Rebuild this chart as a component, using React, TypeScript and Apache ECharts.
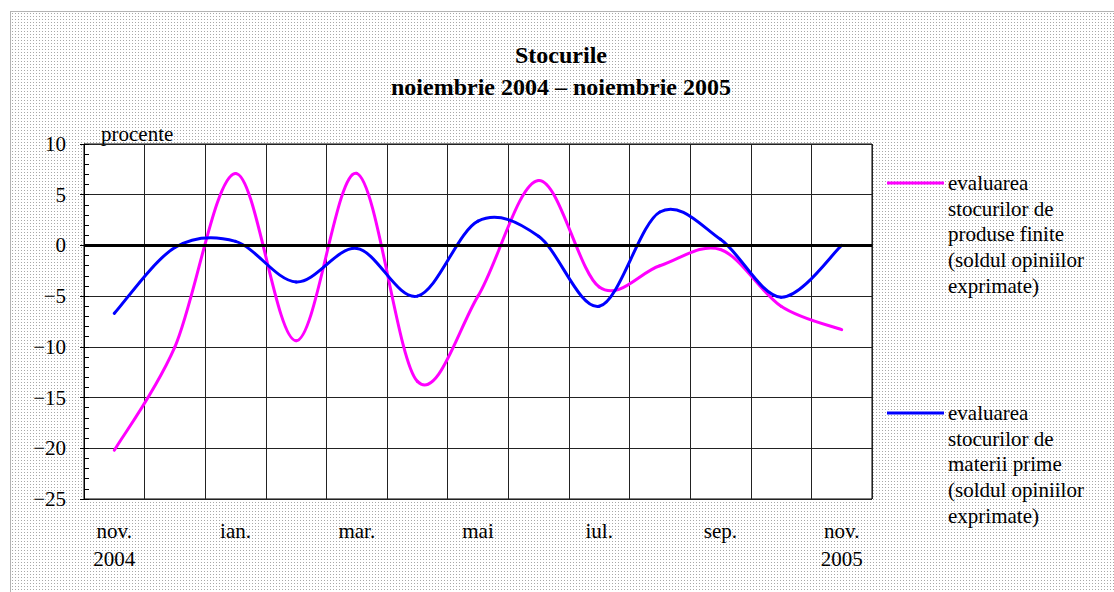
import React, { useEffect, useRef } from "react";
import * as echarts from "echarts";

const months = [
  "nov.\n2004", "dec.", "ian.", "feb.", "mar.", "apr.", "mai",
  "iun.", "iul.", "aug.", "sep.", "oct.", "nov.\n2005",
];
const finishedGoods = [-20.2, -10, 7.1, -9.4, 7.1, -13.4, -5, 6.4, -4.1, -2, -0.4, -6, -8.3];
const rawMaterials = [-6.7, -0.2, 0.4, -3.6, -0.3, -5, 2.4, 0.9, -6, 3.3, 0.6, -5.1, 0];
const yMin = -25;
const yMax = 10;
const yInterval = 5;
const titleLines = ["Stocurile", "noiembrie 2004 \u2013 noiembrie 2005"];
const unitLabel = "procente";
const seriesNames = [
  "evaluarea stocurilor de produse finite (soldul opiniilor exprimate)",
  "evaluarea stocurilor de materii prime (soldul opiniilor exprimate)",
];
const legendTexts = [
  "evaluarea\nstocurilor de\nproduse finite\n(soldul opiniilor\nexprimate)",
  "evaluarea\nstocurilor de\nmaterii prime\n(soldul opiniilor\nexprimate)",
];
const colors = ["#ff00ff", "#0000ff"];

const FONT = "'Liberation Serif', 'Times New Roman', serif";

const dotSvg =
  "<svg xmlns='http://www.w3.org/2000/svg' width='3' height='3'><rect width='1' height='1' fill='#a8a8a8'/></svg>";
const dotUrl = `url("data:image/svg+xml;charset=utf-8,${encodeURIComponent(dotSvg)}")`;

// Excel-like smoothed line: Catmull-Rom bezier segments through the data points,
// each point placed with the chart's own axes (api.coord).
function smoothSeries(name: string, values: number[], color: string, z: number) {
  const n = values.length;
  return {
    name,
    type: "custom",
    z,
    data: values.map((v, i) => [i, v]),
    encode: { x: 0, y: 1 },
    renderItem: (params: any, api: any) => {
      const i = params.dataIndex;
      if (i >= n - 1) return { type: "group", children: [] };
      const pt = (k: number) => {
        const kk = Math.max(0, Math.min(n - 1, k));
        return api.coord([kk, values[kk]]);
      };
      const p0 = pt(i - 1);
      const p1 = pt(i);
      const p2 = pt(i + 1);
      const p3 = pt(i + 2);
      const t = 1 / 6;
      return {
        type: "bezierCurve",
        shape: {
          x1: p1[0],
          y1: p1[1],
          x2: p2[0],
          y2: p2[1],
          cpx1: p1[0] + (p2[0] - p0[0]) * t,
          cpy1: p1[1] + (p2[1] - p0[1]) * t,
          cpx2: p2[0] - (p3[0] - p1[0]) * t,
          cpy2: p2[1] - (p3[1] - p1[1]) * t,
        },
        style: { stroke: color, lineWidth: 3, fill: null, lineCap: "round" },
      };
    },
  };
}

export default function App() {
  const ref = useRef<HTMLDivElement>(null);

  useEffect(() => {
    if (!ref.current) return;
    const chart = echarts.init(ref.current, undefined, { renderer: "svg" });
    const legendY = [183, 413];
    chart.setOption({
      animation: false,
      backgroundColor: "transparent",
      textStyle: { fontFamily: FONT, color: "#000" },
      grid: {
        left: 84,
        right: 242,
        top: 144,
        bottom: 93,
        show: true,
        backgroundColor: "#ffffff",
        borderColor: "#000",
        borderWidth: 1,
      },
      xAxis: {
        type: "category",
        data: months,
        boundaryGap: true,
        axisLine: { show: true, lineStyle: { color: "#000", width: 1 } },
        axisTick: { show: false },
        axisLabel: {
          interval: 1,
          fontFamily: FONT,
          fontSize: 21,
          color: "#000",
          lineHeight: 28,
          margin: 18,
        },
        splitLine: { show: true, interval: 0, lineStyle: { color: "#222", width: 1 } },
      },
      yAxis: [
        {
          type: "value",
          min: yMin,
          max: yMax,
          interval: yInterval,
          axisLine: { show: true, lineStyle: { color: "#000", width: 1 } },
          axisTick: { show: true, inside: false, length: 4, lineStyle: { color: "#000" } },
          axisLabel: {
            fontFamily: FONT,
            fontSize: 21,
            color: "#000",
            margin: 18,
            formatter: (v: number) => String(v).replace("-", "\u2212"),
          },
          splitLine: { show: true, lineStyle: { color: "#222", width: 1 } },
        },
        {
          type: "value",
          min: yMin,
          max: yMax,
          interval: 1,
          position: "left",
          axisLine: { show: false },
          axisTick: { show: true, inside: true, length: 5, lineStyle: { color: "#000" } },
          axisLabel: { show: false },
          splitLine: { show: false },
        },
      ],
      series: [
        {
          name: "zero",
          type: "line",
          data: [],
          z: 1,
          markLine: {
            silent: true,
            symbol: "none",
            label: { show: false },
            lineStyle: { color: "#000", width: 3, type: "solid" },
            data: [{ yAxis: 0 }],
          },
        },
        smoothSeries(seriesNames[0], finishedGoods, colors[0], 3),
        smoothSeries(seriesNames[1], rawMaterials, colors[1], 4),
      ],
      graphic: [
        {
          type: "text",
          x: 561,
          y: 55,
          style: {
            text: titleLines[0],
            font: `bold 24px ${FONT}`,
            fill: "#000",
            align: "center",
            verticalAlign: "middle",
          },
        },
        {
          type: "text",
          x: 561,
          y: 87,
          style: {
            text: titleLines[1],
            font: `bold 24px ${FONT}`,
            fill: "#000",
            align: "center",
            verticalAlign: "middle",
          },
        },
        {
          type: "text",
          x: 101,
          y: 134,
          style: {
            text: unitLabel,
            font: `21px ${FONT}`,
            fill: "#000",
            align: "left",
            verticalAlign: "middle",
          },
        },
        ...legendTexts.flatMap((t, i) => [
          {
            type: "line",
            shape: { x1: 887, y1: legendY[i], x2: 944, y2: legendY[i] },
            style: { stroke: colors[i], lineWidth: 3 },
          },
          {
            type: "text",
            x: 948,
            y: legendY[i] - 13,
            style: {
              text: t,
              font: `21px ${FONT}`,
              fill: "#000",
              align: "left",
              verticalAlign: "top",
              lineHeight: 25.7,
            },
          },
        ]),
      ],
    });
    return () => chart.dispose();
  }, []);

  return (
    <>
      <div
        style={{
          position: "absolute",
          left: 10,
          top: 11,
          width: 1110,
          height: 590,
          boxSizing: "border-box",
          border: "1px solid #b4b4b4",
          backgroundColor: "#ffffff",
          backgroundImage: dotUrl,
          backgroundSize: "3px 3px",
          backgroundPosition: "1px 1px",
        }}
      />
      <div
        ref={ref}
        style={{ position: "absolute", left: 0, top: 0, width: 1114, height: 592 }}
      />
    </>
  );
}
